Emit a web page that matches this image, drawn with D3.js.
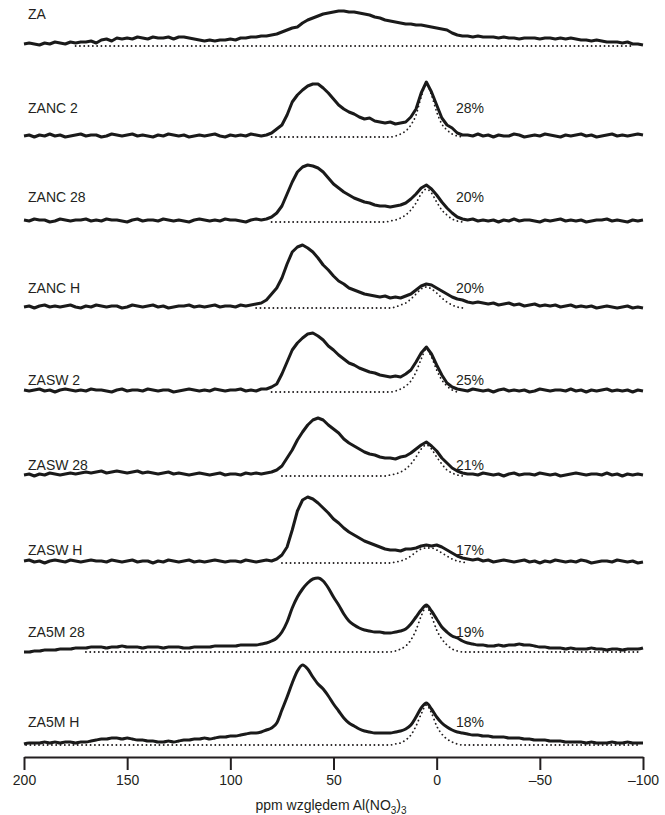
<!DOCTYPE html>
<html>
<head>
<meta charset="utf-8">
<script src="https://cdn.jsdelivr.net/npm/d3@7"></script>
<style>
  html, body { margin: 0; padding: 0; background: #fff; }
  svg { display: block; }
  text { font-family: "Liberation Sans", Arial, sans-serif; fill: #231f20; }
</style>
</head>
<body>
<div id="chart"></div>
<script>
// chemical shift grid (ppm), 2.5 ppm steps, shared by every spectrum
const ppm = [200,197.5,195,192.5,190,187.5,185,182.5,180,177.5,175,172.5,170,167.5,165,162.5,160,157.5,155,152.5,
  150,147.5,145,142.5,140,137.5,135,132.5,130,127.5,125,122.5,120,117.5,115,112.5,110,107.5,105,102.5,
  100,97.5,95,92.5,90,87.5,85,82.5,80,77.5,75,72.5,70,67.5,65,62.5,60,57.5,55,52.5,
  50,47.5,45,42.5,40,37.5,35,32.5,30,27.5,25,22.5,20,17.5,15,12.5,10,7.5,5,2.5,
  0,-2.5,-5,-7.5,-10,-12.5,-15,-17.5,-20,-22.5,-25,-27.5,-30,-32.5,-35,-37.5,-40,-42.5,-45,-47.5,
  -50,-52.5,-55,-57.5,-60,-62.5,-65,-67.5,-70,-72.5,-75,-77.5,-80,-82.5,-85,-87.5,-90,-92.5,-95,-97.5,-100];

const sampleNames = ['ZA', 'ZANC 2', 'ZANC 28', 'ZANC H', 'ZASW 2', 'ZASW 28', 'ZASW H', 'ZA5M 28', 'ZA5M H'];
const octahedralShare = [null, '28%', '20%', '20%', '25%', '21%', '17%', '19%', '18%'];
// vertical stacking of the spectra (same units as intensity)
const stackOffsets = [711, 620, 535, 449, 365, 281, 194, 105, 12];
const labelHeights = [743, 649, 560, 469, 377, 292, 207, 125, 35];

// intensities, one value per ppm grid point
const zaValues = [2,3,2,1,3,2,4,3,2,4,3,4,4,5,3,6,7,5,8,7,8,7,9,8,7,9,8,8,9,7,9,9,8,7,6,5,6,5,6,6,
  7,6,8,8,9,9,10,10,11,12,14,16,18,19,23,26,28,30,32,33,34,35,35,34,34,33,32,31,29,28,
  26,25,24,23,22,22,21,21,20,19,18,17,16,13,11,10,10,9,10,9,9,9,8,9,8,8,7,8,8,8,
  7,8,8,7,8,7,8,7,6,6,5,6,5,4,4,4,3,4,2,2,1];
const zanc2Values = [1,2,0,2,1,3,1,2,0,1,2,3,1,2,2,0,1,3,2,1,2,3,1,2,1,0,2,1,3,2,1,2,0,1,2,1,2,3,1,0,
  2,1,2,1,3,2,1,2,4,8,12,22,35,42,47,51,53,53,49,44,38,32,28,25,23,20,18,19,16,15,
  14,15,13,14,15,20,28,44,55,45,32,19,12,9,4,2,2,1,3,1,2,0,2,1,1,3,2,0,1,2,
  1,3,2,1,0,2,1,2,3,1,2,0,1,2,3,1,2,1,2,3,2];
const zanc28Values = [2,1,3,2,2,0,1,3,2,1,2,2,3,1,2,1,3,2,2,1,0,2,3,1,2,2,1,3,2,1,2,1,0,2,3,2,1,2,1,3,
  2,2,1,0,2,3,2,3,5,9,16,28,40,50,55,57,56,54,50,44,38,34,30,27,24,22,20,19,17,16,
  16,15,16,17,19,23,28,34,37,33,27,20,14,9,5,3,2,3,1,2,1,2,0,2,1,3,1,2,2,1,
  0,2,1,2,3,1,2,1,2,0,1,2,2,3,1,2,1,0,2,1,2];
const zancHValues = [1,2,0,2,3,1,2,1,2,3,1,0,2,1,3,2,1,2,2,0,1,3,2,1,2,3,1,2,0,1,2,2,3,1,2,1,2,3,1,2,
  2,1,3,2,3,4,5,8,14,20,30,44,56,61,63,60,56,50,43,38,32,27,24,20,18,16,14,13,12,11,
  12,10,11,10,12,14,18,22,24,23,20,17,14,11,9,8,6,5,6,5,4,5,3,4,5,3,4,2,3,4,
  2,3,2,3,1,2,3,1,2,1,2,0,1,2,1,0,1,2,0,1,0];
const zasw2Values = [2,1,2,3,1,2,0,2,3,2,1,2,1,3,2,2,1,0,2,3,1,2,2,1,3,2,1,2,2,0,1,2,3,2,1,2,1,3,2,1,
  2,2,3,1,2,1,3,3,5,8,18,30,42,49,54,58,59,56,52,46,42,37,33,29,27,24,22,20,19,17,
  16,15,16,15,18,22,30,39,45,38,27,17,9,5,3,2,1,3,2,1,2,0,2,3,1,2,1,2,0,1,
  3,2,1,2,2,1,3,1,2,0,2,1,2,3,1,2,1,2,0,2,1];
const zasw28Values = [1,2,0,2,1,3,2,1,2,3,2,3,4,3,4,5,3,4,5,4,3,4,5,3,4,3,2,3,4,2,3,2,1,2,3,2,1,2,3,1,
  2,2,1,3,2,3,2,3,4,6,10,18,26,36,44,51,56,58,56,51,47,43,37,33,30,27,24,22,21,19,
  18,18,17,19,20,23,27,31,34,30,25,18,13,8,5,3,2,2,1,3,2,1,2,0,2,3,1,2,2,1,
  3,2,1,2,0,1,2,3,2,1,2,2,1,3,1,2,0,2,1,2,1];
const zaswHValues = [2,3,1,2,0,2,3,2,1,3,2,1,2,3,2,2,1,3,2,1,2,3,1,2,2,0,2,1,3,2,1,2,3,1,2,1,2,3,2,1,
  2,2,1,3,2,1,2,3,2,4,8,16,33,52,63,66,64,60,55,50,44,40,35,31,28,25,22,20,18,16,
  14,13,13,12,14,14,15,17,18,17,18,16,13,10,7,5,4,3,4,2,3,1,2,3,2,1,2,3,1,2,
  0,2,1,3,2,1,2,1,3,2,0,1,2,2,1,3,2,1,2,0,1];
const za5m28Values = [0,0,1,1,2,2,2,3,3,3,4,4,4,5,5,5,4,5,5,6,5,5,5,4,5,5,5,4,5,5,5,4,4,5,5,5,5,6,6,6,
  6,6,7,7,7,7,8,9,11,14,20,30,44,55,63,69,73,74,71,64,55,47,38,31,27,24,22,21,20,20,
  19,19,20,21,23,28,35,42,47,41,33,25,20,16,14,11,9,8,7,7,6,6,7,6,7,7,8,7,7,6,
  5,5,4,4,4,3,4,3,3,3,4,3,3,2,3,3,2,3,3,3,4];
const za5mHValues = [1,2,2,2,3,2,3,2,3,3,2,3,3,4,5,6,6,7,7,6,7,6,5,5,4,4,3,3,4,3,4,5,5,6,6,7,6,7,8,8,
  9,9,10,11,12,12,13,15,17,22,35,48,62,74,80,76,68,61,56,49,41,34,27,22,19,16,14,13,12,12,
  12,12,13,14,16,20,28,37,42,36,28,22,18,15,13,12,11,10,10,9,9,8,8,8,7,7,7,6,6,5,
  5,5,4,4,4,3,3,3,3,2,3,2,2,2,3,2,2,3,2,2,2];

// fitted baseline + octahedral component (dotted), [ppm, intensity]
const fitZA = [[175,0],[-95,0]];
const fitZANC2 = [[80,0],[22.5,0],[20,1],[17.5,3],[15,6],[12.5,12],[10,22],[7.5,40],[5,53],[2.5,42],[0,25],[-2.5,13],[-5,7],[-7.5,3],[-10,1],[-12.5,0]];
const fitZANC28 = [[80,0],[25,0],[22.5,1],[20,2],[17.5,4],[15,7],[12.5,12],[10,19],[7.5,28],[5,33],[2.5,29],[0,20],[-2.5,12],[-5,7],[-7.5,3],[-10,1],[-12.5,0]];
const fitZANCH = [[87.5,0],[22.5,0],[20,1],[17.5,3],[15,5],[12.5,9],[10,14],[7.5,19],[5,21],[2.5,19],[0,15],[-2.5,10],[-5,6],[-7.5,3],[-10,1],[-12.5,0]];
const fitZASW2 = [[80,0],[22.5,0],[20,1],[17.5,3],[15,6],[12.5,11],[10,20],[7.5,33],[5,43],[2.5,35],[0,22],[-2.5,12],[-5,6],[-7.5,2],[-10,0]];
const fitZASW28 = [[75,0],[25,0],[22.5,1],[20,2],[17.5,4],[15,7],[12.5,12],[10,19],[7.5,27],[5,31],[2.5,27],[0,19],[-2.5,12],[-5,6],[-7.5,3],[-10,1],[-12.5,0]];
const fitZASWH = [[75,0],[22.5,0],[20,1],[17.5,2],[15,4],[12.5,7],[10,11],[7.5,14],[5,15],[2.5,15],[0,13],[-2.5,10],[-5,7],[-7.5,4],[-10,2],[-12.5,1],[-15,0]];
const fitZA5M28 = [[170,0],[22.5,0],[20,1],[17.5,3],[15,6],[12.5,12],[10,22],[7.5,36],[5,45],[2.5,36],[0,22],[-2.5,13],[-5,7],[-7.5,3],[-10,1],[-12.5,0],[-98,0]];
const fitZA5MH = [[199,0],[22.5,0],[20,1],[17.5,2],[15,5],[12.5,10],[10,19],[7.5,31],[5,40],[2.5,32],[0,19],[-2.5,11],[-5,6],[-7.5,3],[-10,1],[-12.5,0],[-98,0]];

const xTicks = [200, 150, 100, 50, 0, -50, -100];

const spectra = [zaValues, zanc2Values, zanc28Values, zancHValues, zasw2Values, zasw28Values, zaswHValues, za5m28Values, za5mHValues];
const fits = [fitZA, fitZANC2, fitZANC28, fitZANCH, fitZASW2, fitZASW28, fitZASWH, fitZA5M28, fitZA5MH];

const width = 665, height = 815;
const axisY = 757;

const svg = d3.select('#chart').append('svg')
  .attr('width', width)
  .attr('height', height);

svg.append('rect').attr('width', width).attr('height', height).attr('fill', '#fff');

const x = d3.scaleLinear().domain([200, -100]).range([24, 643]);
const y = d3.scaleLinear().domain([0, axisY]).range([axisY, 0]);

sampleNames.forEach((name, k) => {
  const off = stackOffsets[k];
  const g = svg.append('g').attr('class', 'spectrum');

  // dotted fit first, the measured trace goes on top of it
  const fitLine = d3.line()
    .x(d => x(d[0]))
    .y(d => y(off + d[1]))
    .curve(d3.curveMonotoneX);
  g.append('path')
    .datum(fits[k])
    .attr('fill', 'none')
    .attr('stroke', '#231f20')
    .attr('stroke-width', 1.8)
    .attr('stroke-linecap', 'round')
    .attr('stroke-dasharray', '0.1,4.2')
    .attr('d', fitLine);

  const smooth = name.startsWith('ZA5M');
  const line = d3.line()
    .x((d, i) => x(ppm[i]))
    .y(d => y(off + d))
    .curve(smooth ? d3.curveMonotoneX : d3.curveLinear);
  g.append('path')
    .datum(spectra[k])
    .attr('fill', 'none')
    .attr('stroke', '#1a1a1a')
    .attr('stroke-width', 3)
    .attr('stroke-linejoin', 'round')
    .attr('d', line);

  g.append('text')
    .attr('x', 28)
    .attr('y', y(labelHeights[k]))
    .attr('dy', '0.35em')
    .style('font-size', '14px')
    .text(name);

  if (octahedralShare[k]) {
    g.append('text')
      .attr('x', 456)
      .attr('y', y(labelHeights[k]))
      .attr('dy', '0.35em')
      .style('font-size', '14px')
      .text(octahedralShare[k]);
  }
});

// x axis
const axis = svg.append('g')
  .attr('transform', `translate(0,${axisY})`)
  .call(d3.axisBottom(x)
    .tickValues(xTicks)
    .tickSize(13)
    .tickSizeOuter(0)
    .tickPadding(5)
    .tickFormat(d => d < 0 ? '\u2013' + Math.abs(d) : d));

axis.select('.domain').attr('stroke', '#231f20').attr('stroke-width', 2);
axis.selectAll('.tick line').attr('stroke', '#231f20').attr('stroke-width', 2);
axis.selectAll('.tick text')
  .style('font-family', '"Liberation Sans", Arial, sans-serif')
  .style('font-size', '14px')
  .attr('fill', '#231f20');

const title = svg.append('text')
  .attr('x', 331)
  .attr('y', 810)
  .attr('text-anchor', 'middle')
  .style('font-size', '14px');
title.append('tspan').text('ppm względem Al(NO');
title.append('tspan').attr('dy', 4).style('font-size', '10px').text('3');
title.append('tspan').attr('dy', -4).text(')');
title.append('tspan').attr('dy', 4).style('font-size', '10px').text('3');
</script>
</body>
</html>
